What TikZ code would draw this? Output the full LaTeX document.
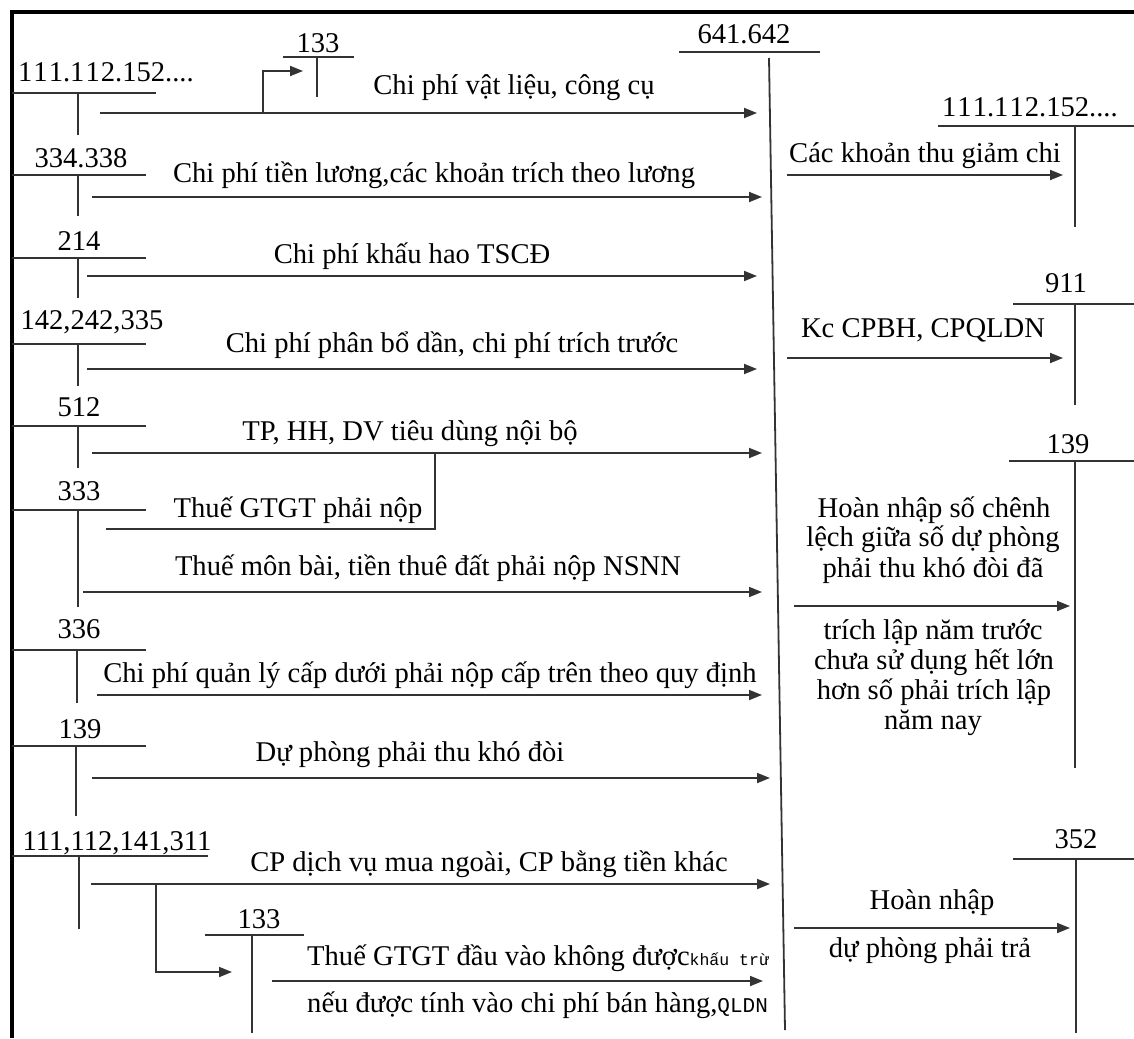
\documentclass[tikz,border=0pt]{standalone}
\usepackage{fontspec}
\setmainfont{Liberation Serif}
\newfontfamily\smallmono{Liberation Mono}
\usetikzlibrary{arrows.meta}
\begin{document}
\begin{tikzpicture}[x=1pt,y=-1pt,
  txt/.style={inner sep=0pt, anchor=base, font=\fontsize{28.6}{30}\selectfont},
  tline/.style={line width=1.8pt, draw=black!80},
  flow/.style={line width=1.8pt, draw=black!80, -{Triangle[length=13pt,width=10pt]}},
  outer/.style={line width=3.5pt, draw=black}]
\useasboundingbox (0,0) rectangle (1134,1038);
\draw[outer] (12,1038) -- (12,12) -- (1134,12);

% ---------- central account 641.642 ----------
\node[txt] (c) at (744,44) {641.642};
\draw[tline] (679,52) -- (820,52);
\draw[tline] (769,58) -- (785,1030);

% ---------- left accounts ----------
\node[txt, anchor=base west] (l1) at (18,82) {1\kern1pt1\kern1pt1.1\kern1pt1\kern1pt2.152....};
\draw[tline] (12,93) -- (156,93); \draw[tline] (78,93) -- (78,135);
\node[txt] (t133a) at (318,53) {133};
\draw[tline] (283,57) -- (354,57); \draw[tline] (317,57) -- (317,97);

\node[txt] (l2) at (81,167) {334.338};
\draw[tline] (12,175) -- (146,175); \draw[tline] (78,175) -- (78,216);

\node[txt] (l3) at (79,250) {214};
\draw[tline] (12,258) -- (146,258); \draw[tline] (78,258) -- (78,298);

\node[txt] (l4) at (92,329) {142,242,335};
\draw[tline] (12,344) -- (146,344); \draw[tline] (78,344) -- (78,386);

\node[txt] (l5) at (79,416) {512};
\draw[tline] (12,426) -- (146,426); \draw[tline] (78,426) -- (78,468);

\node[txt] (l6) at (79,500) {333};
\draw[tline] (12,510) -- (146,510); \draw[tline] (78,510) -- (78,607);

\node[txt] (l7) at (79,638) {336};
\draw[tline] (12,650) -- (146,650); \draw[tline] (77,650) -- (77,703);

\node[txt] (l8) at (80,738) {139};
\draw[tline] (12,746) -- (146,746); \draw[tline] (76,746) -- (76,816);

\node[txt] (l9) at (117,850) {111,112,141,311};
\draw[tline] (12,856) -- (208,856); \draw[tline] (79,856) -- (79,929);
\node[txt] (t133b) at (259,928) {133};
\draw[tline] (205,935) -- (304,935); \draw[tline] (252,935) -- (252,1033);

% ---------- right accounts ----------
\node[txt, anchor=base west] (r1) at (942,117) {1\kern1pt1\kern1pt1.1\kern1pt1\kern1pt2.152....};
\draw[tline] (938,126) -- (1134,126); \draw[tline] (1075,126) -- (1075,227);

\node[txt] (r2) at (1066,292) {911};
\draw[tline] (1013,304) -- (1134,304); \draw[tline] (1075,304) -- (1075,405);

\node[txt] (r3) at (1068,453) {139};
\draw[tline] (1009,461) -- (1134,461); \draw[tline] (1075,461) -- (1075,768);

\node[txt] (r4) at (1076,848) {352};
\draw[tline] (1013,859) -- (1134,859); \draw[tline] (1076,859) -- (1076,1033);

% ---------- arrow end points ----------
\coordinate (s1) at (100,113); \coordinate (e1) at (757,113);
\coordinate (b1) at (263,113); \coordinate (b1e) at (303,71);
\coordinate (s2) at (92,197);  \coordinate (e2) at (762,197);
\coordinate (s3) at (87,276);  \coordinate (e3) at (757,276);
\coordinate (s4) at (87,369);  \coordinate (e4) at (757,369);
\coordinate (s5) at (92,453);  \coordinate (e5) at (762,453);
\coordinate (v0) at (106,529); \coordinate (v1) at (435,453);
\coordinate (s6) at (83,592);  \coordinate (e6) at (762,592);
\coordinate (s7) at (97,695);  \coordinate (e7) at (762,695);
\coordinate (s8) at (92,778);  \coordinate (e8) at (770,778);
\coordinate (s9) at (91,884);  \coordinate (e9) at (770,884);
\coordinate (b9) at (156,884); \coordinate (b9e) at (232,972);
\coordinate (s10) at (272,981); \coordinate (e10) at (763,981);
\coordinate (sr1) at (787,175); \coordinate (er1) at (1063,175);
\coordinate (sr2) at (787,358); \coordinate (er2) at (1063,358);
\coordinate (sr3) at (794,606); \coordinate (er3) at (1070,606);
\coordinate (sr4) at (794,928); \coordinate (er4) at (1070,928);

% ---------- arrows ----------
\draw[flow] (s1) -- (e1);
\draw[flow] (b1) |- (b1e);
\draw[flow] (s2) -- (e2);
\draw[flow] (s3) -- (e3);
\draw[flow] (s4) -- (e4);
\draw[flow] (s5) -- (e5);
\draw[tline] (v0) -| (v1);
\draw[flow] (s6) -- (e6);
\draw[flow] (s7) -- (e7);
\draw[flow] (s8) -- (e8);
\draw[flow] (s9) -- (e9);
\draw[flow] (b9) |- (b9e);
\draw[flow] (s10) -- (e10);
\draw[flow] (sr1) -- (er1);
\draw[flow] (sr2) -- (er2);
\draw[flow] (sr3) -- (er3);
\draw[flow] (sr4) -- (er4);

% ---------- arrow labels ----------
\node[txt] (a1) at (514,95) {Chi phí vật liệu, công cụ};
\node[txt] (a2) at (434,182) {Chi phí tiền lương,các khoản trích theo lương};
\node[txt] (a3) at (412,263) {Chi phí khấu hao TSCĐ};
\node[txt] (a4) at (452,352) {Chi phí phân bổ dần, chi phí trích trước};
\node[txt] (a5) at (410,440) {TP, HH, DV tiêu dùng nội bộ};
\node[txt] (a5b) at (298,517) {Thuế GTGT phải nộp};
\node[txt] (a6) at (428,575) {Thuế môn bài, tiền thuê đất phải nộp NSNN};
\node[txt] (a7) at (430,682) {Chi phí quản lý cấp dưới phải nộp cấp trên theo quy định};
\node[txt] (a8) at (410,761) {Dự phòng phải thu khó đòi};
\node[txt] (a9) at (489,871) {CP dịch vụ mua ngoài, CP bằng tiền khác};
\node[txt, anchor=base west] (a10) at (307,965) {Thuế GTGT đầu vào không được{\smallmono\fontsize{16.5}{18}\selectfont khấu trừ}};
\node[txt, anchor=base west] (a10b) at (307,1012) {nếu được tính vào chi phí bán hàng,{\smallmono\fontsize{21}{22}\selectfont QLDN}};

\node[txt] (ar1) at (925,162) {Các khoản thu giảm chi};
\node[txt] (ar2) at (923,337) {Kc CPBH, CPQLDN};
\node[txt] (ar3a) at (934,517) {Hoàn nhập số chênh};
\node[txt] (ar3b) at (933,546) {lệch giữa số dự phòng};
\node[txt] (ar3c) at (933,577) {phải thu khó đòi đã};
\node[txt] (ar3d) at (933,639) {trích lập năm trước};
\node[txt] (ar3e) at (934,669) {chưa sử dụng hết lớn};
\node[txt] (ar3f) at (934,699) {hơn số phải trích lập};
\node[txt] (ar3g) at (933,729) {năm nay};
\node[txt] (ar4a) at (932,909) {Hoàn nhập};
\node[txt] (ar4b) at (930,957) {dự phòng phải trả};
\end{tikzpicture}
\end{document}
